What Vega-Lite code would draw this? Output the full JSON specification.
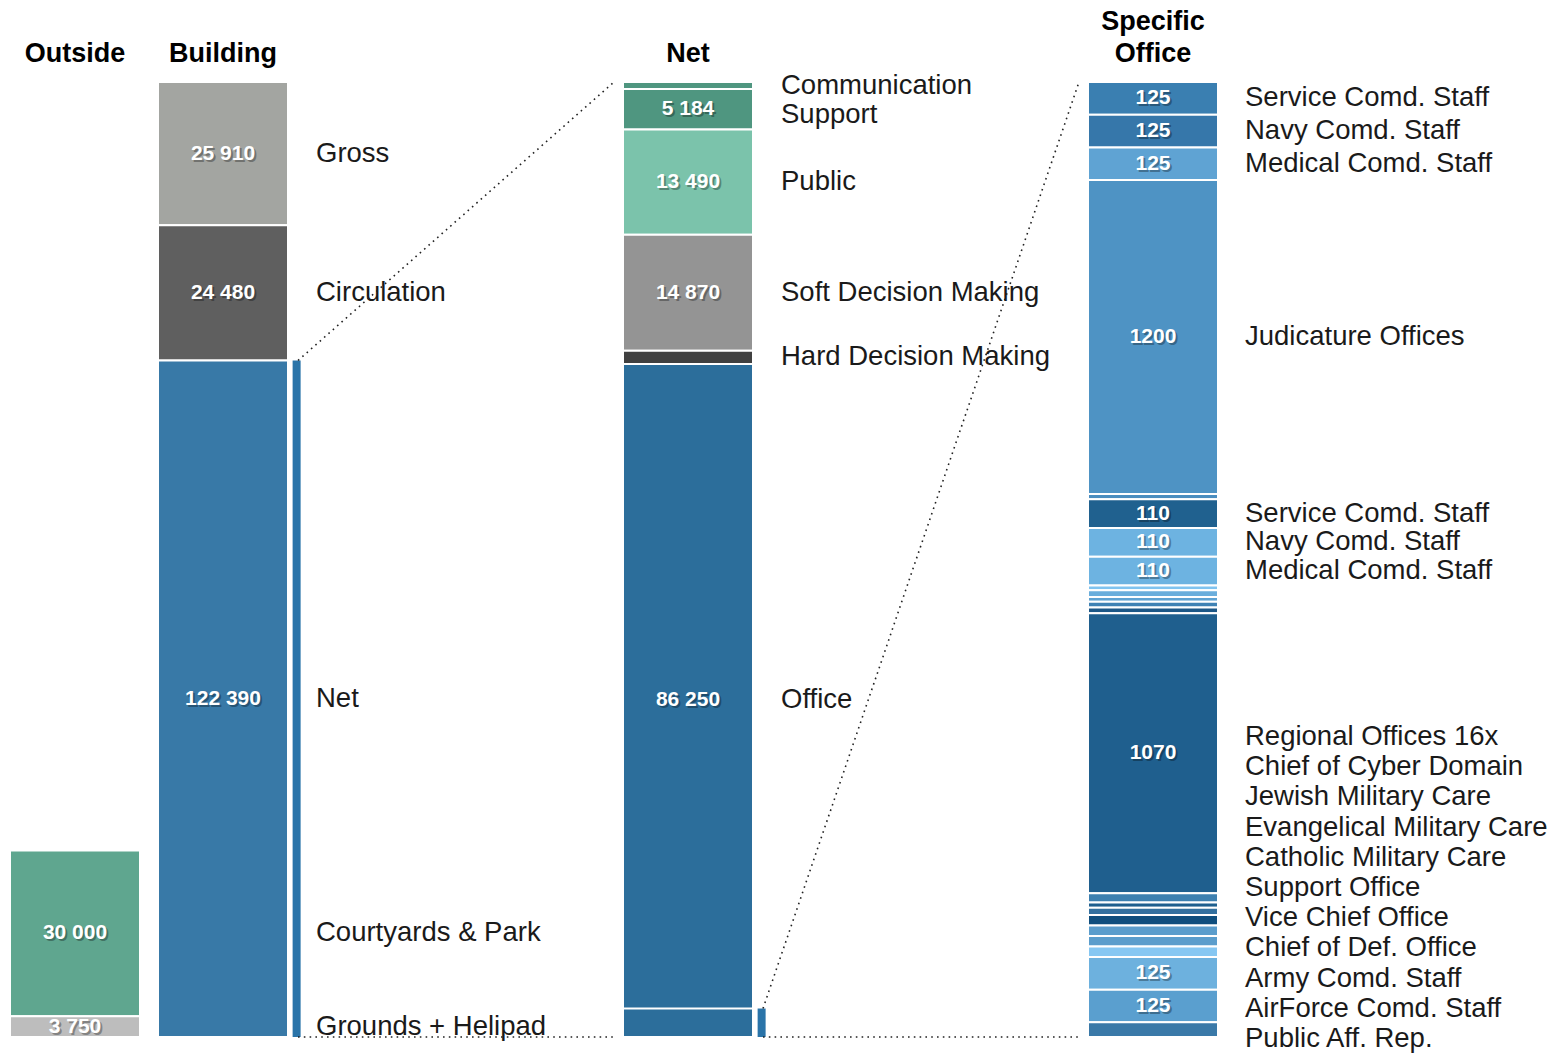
{
  "$schema": "https://vega.github.io/schema/vega-lite/v6.json",
  "width": 1208,
  "height": 955,
  "autosize": {"type": "none"},
  "padding": {"left": 10, "top": 82, "right": 344, "bottom": 16},
  "background": "white",
  "config": {"view": {"stroke": null}},
  "datasets": {
    "building": [
      {"col": "Outside", "group": "Building", "sub": "outside", "id": "o1", "ord": 1, "value": 30000, "tag": "30 000", "name": "Courtyards & Park"},
      {"col": "Outside", "group": "Building", "sub": "outside", "id": "o2", "ord": 2, "value": 3750, "tag": "3 750", "name": "Grounds + Helipad"},
      {"col": "Building", "group": "Building", "sub": "main", "id": "b1", "ord": 1, "value": 25910, "tag": "25 910", "name": "Gross"},
      {"col": "Building", "group": "Building", "sub": "main", "id": "b2", "ord": 2, "value": 24480, "tag": "24 480", "name": "Circulation"},
      {"col": "Building", "group": "Building", "sub": "main", "id": "b3", "ord": 3, "value": 122390, "tag": "122 390", "name": "Net"}
    ],
    "net": [
      {"group": "Net", "sub": "main", "id": "n1", "ord": 1, "value": 900, "tag": "", "name": "Communication"},
      {"group": "Net", "sub": "main", "id": "n2", "ord": 2, "value": 5184, "tag": "5 184", "name": "Support"},
      {"group": "Net", "sub": "main", "id": "n3", "ord": 3, "value": 13490, "tag": "13 490", "name": "Public"},
      {"group": "Net", "sub": "main", "id": "n4", "ord": 4, "value": 14870, "tag": "14 870", "name": "Soft Decision Making"},
      {"group": "Net", "sub": "main", "id": "n5", "ord": 5, "value": 1696, "tag": "", "name": "Hard Decision Making"},
      {"group": "Net", "sub": "main", "id": "n6", "ord": 6, "value": 86250, "tag": "86 250", "name": "Office"}
    ],
    "netShare": [
      {"group": "Net", "sub": "main", "value": 3651}
    ],
    "spec": [
      {"group": "Specific Office", "sub": "main", "id": "sp01", "ord": 1, "value": 125, "tag": "125", "name": "Service Comd. Staff"},
      {"group": "Specific Office", "sub": "main", "id": "sp02", "ord": 2, "value": 125, "tag": "125", "name": "Navy Comd. Staff"},
      {"group": "Specific Office", "sub": "main", "id": "sp03", "ord": 3, "value": 125, "tag": "125", "name": "Medical Comd. Staff"},
      {"group": "Specific Office", "sub": "main", "id": "sp04", "ord": 4, "value": 1200, "tag": "1200", "name": "Judicature Offices"},
      {"group": "Specific Office", "sub": "main", "id": "sp05", "ord": 5, "value": 20, "tag": "", "name": ""},
      {"group": "Specific Office", "sub": "main", "id": "sp06", "ord": 6, "value": 110, "tag": "110", "name": "Service Comd. Staff"},
      {"group": "Specific Office", "sub": "main", "id": "sp07", "ord": 7, "value": 110, "tag": "110", "name": "Navy Comd. Staff"},
      {"group": "Specific Office", "sub": "main", "id": "sp08", "ord": 8, "value": 110, "tag": "110", "name": "Medical Comd. Staff"},
      {"group": "Specific Office", "sub": "main", "id": "sp09", "ord": 9, "value": 18, "tag": "", "name": ""},
      {"group": "Specific Office", "sub": "main", "id": "sp10", "ord": 10, "value": 26, "tag": "", "name": ""},
      {"group": "Specific Office", "sub": "main", "id": "sp11", "ord": 11, "value": 18, "tag": "", "name": ""},
      {"group": "Specific Office", "sub": "main", "id": "sp12", "ord": 12, "value": 22, "tag": "", "name": ""},
      {"group": "Specific Office", "sub": "main", "id": "sp13", "ord": 13, "value": 22, "tag": "", "name": ""},
      {"group": "Specific Office", "sub": "main", "id": "sp14", "ord": 14, "value": 1070, "tag": "1070", "name": "Regional Offices 16x"},
      {"group": "Specific Office", "sub": "main", "id": "sp15", "ord": 15, "value": 36, "tag": "", "name": "Chief of Cyber Domain"},
      {"group": "Specific Office", "sub": "main", "id": "sp16", "ord": 16, "value": 20, "tag": "", "name": "Jewish Military Care"},
      {"group": "Specific Office", "sub": "main", "id": "sp17", "ord": 17, "value": 28, "tag": "", "name": "Evangelical Military Care"},
      {"group": "Specific Office", "sub": "main", "id": "sp18", "ord": 18, "value": 40, "tag": "", "name": "Catholic Military Care"},
      {"group": "Specific Office", "sub": "main", "id": "sp19", "ord": 19, "value": 40, "tag": "", "name": "Support Office"},
      {"group": "Specific Office", "sub": "main", "id": "sp20", "ord": 20, "value": 40, "tag": "", "name": "Vice Chief Office"},
      {"group": "Specific Office", "sub": "main", "id": "sp21", "ord": 21, "value": 40, "tag": "", "name": "Chief of Def. Office"},
      {"group": "Specific Office", "sub": "main", "id": "sp22", "ord": 22, "value": 125, "tag": "125", "name": "Army Comd. Staff"},
      {"group": "Specific Office", "sub": "main", "id": "sp23", "ord": 23, "value": 125, "tag": "125", "name": "AirForce Comd. Staff"},
      {"group": "Specific Office", "sub": "main", "id": "sp24", "ord": 24, "value": 56, "tag": "", "name": "Public Aff. Rep."}
    ],
    "strips": [
      {"group": "Building", "lo": 0, "hi": 122390},
      {"group": "Net", "lo": 0, "hi": 3651}
    ],
    "links": [
      {"from": "Building", "to": "Net", "a": 122390, "b": 172780},
      {"from": "Building", "to": "Net", "a": 0, "b": 0},
      {"from": "Net", "to": "Specific Office", "a": 3651, "b": 122390},
      {"from": "Net", "to": "Specific Office", "a": 0, "b": 0}
    ],
    "headers": [
      {"group": "Building", "sub": "outside", "h": "Outside"},
      {"group": "Building", "sub": "main", "h": "Building"},
      {"group": "Net", "sub": "main", "h": "Net"},
      {"group": "Specific Office", "sub": "main", "h": ["Specific", "Office"]}
    ]
  },
  "resolve": {"scale": {"y": "independent"}},
  "layer": [
    {
      "layer": [
        {
          "data": {"name": "building"},
          "transform": [{"filter": "datum.col === 'Outside'"}],
          "mark": {"type": "bar", "stroke": "white", "strokeWidth": 2},
          "encoding": {
            "x": {"field": "group", "type": "nominal", "scale": {"domain": ["Building", "Net", "Specific Office"], "paddingInner": 0.40215, "paddingOuter": 0}, "axis": null},
            "xOffset": {"field": "sub", "type": "nominal", "scale": {"domain": ["outside", "main"], "paddingInner": 0.12162, "paddingOuter": 0}},
            "y": {"field": "value", "type": "quantitative", "stack": "zero", "scale": {"domain": [0, 172780], "nice": false}, "axis": null},
            "color": {"field": "id", "type": "nominal", "legend": null, "scale": {"domain": ["o1","o2","b1","b2","b3","n1","n2","n3","n4","n5","n6","sp01","sp02","sp03","sp04","sp05","sp06","sp07","sp08","sp09","sp10","sp11","sp12","sp13","sp14","sp15","sp16","sp17","sp18","sp19","sp20","sp21","sp22","sp23","sp24"], "range": ["#5fa68f","#bdbdbd","#a3a5a1","#5f5f5f","#3879a7","#4f9680","#4f9680","#7bc3ab","#949494","#404040","#2c6e9b","#3a7fb1","#3677aa","#5fa3d3","#4e93c4","#4a8dbf","#20618f","#6db3e1","#6db3e1","#80c3ef","#6aaedc","#5ea2d2","#3f82b4","#1c5786","#1f5f8e","#3d80b0","#1f5f8e","#33709f","#0f4e7e","#5b9dcc","#5b9dcc","#86c7f2","#6db1de","#5a9fcf","#3a79a8"]}},
            "order": {"field": "ord", "type": "quantitative", "sort": "descending"}
          }
        },
        {
          "data": {"name": "building"},
          "transform": [{"filter": "datum.col === 'Building'"}],
          "mark": {"type": "bar", "stroke": "white", "strokeWidth": 2},
          "encoding": {
            "x": {"field": "group", "type": "nominal", "axis": null},
            "xOffset": {"field": "sub", "type": "nominal"},
            "y": {"field": "value", "type": "quantitative", "stack": "zero", "scale": {"domain": [0, 172780], "nice": false}, "axis": null},
            "color": {"field": "id", "type": "nominal", "legend": null},
            "order": {"field": "ord", "type": "quantitative", "sort": "descending"}
          }
        },
        {
          "data": {"name": "building"},
          "transform": [{"filter": "datum.col === 'Outside'"}],
          "mark": {"type": "text", "font": "Liberation Sans", "fontWeight": "bold", "fontSize": 21, "color": "#000000", "opacity": 0.3, "dx": 2, "dy": 2, "baseline": "middle"},
          "encoding": {
            "x": {"field": "group", "type": "nominal", "axis": null},
            "xOffset": {"field": "sub", "type": "nominal"},
            "y": {"field": "value", "type": "quantitative", "stack": "zero", "bandPosition": 0.5, "axis": null},
            "order": {"field": "ord", "type": "quantitative", "sort": "descending"},
            "text": {"field": "tag", "type": "nominal"}
          }
        },
        {
          "data": {"name": "building"},
          "transform": [{"filter": "datum.col === 'Outside'"}],
          "mark": {"type": "text", "font": "Liberation Sans", "fontWeight": "bold", "fontSize": 21, "color": "#ffffff", "baseline": "middle"},
          "encoding": {
            "x": {"field": "group", "type": "nominal", "axis": null},
            "xOffset": {"field": "sub", "type": "nominal"},
            "y": {"field": "value", "type": "quantitative", "stack": "zero", "bandPosition": 0.5, "axis": null},
            "order": {"field": "ord", "type": "quantitative", "sort": "descending"},
            "text": {"field": "tag", "type": "nominal"}
          }
        },
        {
          "data": {"name": "building"},
          "transform": [{"filter": "datum.col === 'Building'"}],
          "mark": {"type": "text", "font": "Liberation Sans", "fontWeight": "bold", "fontSize": 21, "color": "#000000", "opacity": 0.3, "dx": 2, "dy": 2, "baseline": "middle"},
          "encoding": {
            "x": {"field": "group", "type": "nominal", "axis": null},
            "xOffset": {"field": "sub", "type": "nominal"},
            "y": {"field": "value", "type": "quantitative", "stack": "zero", "bandPosition": 0.5, "axis": null},
            "order": {"field": "ord", "type": "quantitative", "sort": "descending"},
            "text": {"field": "tag", "type": "nominal"}
          }
        },
        {
          "data": {"name": "building"},
          "transform": [{"filter": "datum.col === 'Building'"}],
          "mark": {"type": "text", "font": "Liberation Sans", "fontWeight": "bold", "fontSize": 21, "color": "#ffffff", "baseline": "middle"},
          "encoding": {
            "x": {"field": "group", "type": "nominal", "axis": null},
            "xOffset": {"field": "sub", "type": "nominal"},
            "y": {"field": "value", "type": "quantitative", "stack": "zero", "bandPosition": 0.5, "axis": null},
            "order": {"field": "ord", "type": "quantitative", "sort": "descending"},
            "text": {"field": "tag", "type": "nominal"}
          }
        },
        {
          "data": {"name": "building"},
          "transform": [{"filter": "datum.col === 'Outside'"}],
          "mark": {"type": "text", "font": "Liberation Sans", "fontSize": 27.5, "color": "#1a1a1a", "align": "left", "baseline": "middle", "dx": 28},
          "encoding": {
            "x": {"field": "group", "type": "nominal", "bandPosition": 1, "axis": null},
            "y": {"field": "value", "type": "quantitative", "stack": "zero", "bandPosition": 0.5, "axis": null},
            "order": {"field": "ord", "type": "quantitative", "sort": "descending"},
            "text": {"field": "name", "type": "nominal"}
          }
        },
        {
          "data": {"name": "building"},
          "transform": [{"filter": "datum.col === 'Building'"}],
          "mark": {"type": "text", "font": "Liberation Sans", "fontSize": 27.5, "color": "#1a1a1a", "align": "left", "baseline": "middle", "dx": 28},
          "encoding": {
            "x": {"field": "group", "type": "nominal", "bandPosition": 1, "axis": null},
            "y": {"field": "value", "type": "quantitative", "stack": "zero", "bandPosition": 0.5, "axis": null},
            "order": {"field": "ord", "type": "quantitative", "sort": "descending"},
            "text": {"field": "name", "type": "nominal"}
          }
        },
        {
          "data": {"name": "strips"},
          "transform": [{"filter": "datum.group === 'Building'"}],
          "mark": {"type": "rule", "strokeWidth": 8, "color": "#2a74a9", "strokeCap": "butt"},
          "encoding": {
            "x": {"field": "group", "type": "nominal", "bandPosition": 1.031, "axis": null},
            "y": {"field": "lo", "type": "quantitative", "axis": null},
            "y2": {"field": "hi"}
          }
        },
        {
          "data": {"name": "links"},
          "transform": [{"filter": "datum.from === 'Building'"}],
          "mark": {"type": "rule", "strokeWidth": 1.6, "color": "#222222", "strokeDash": [1.6, 4.2], "strokeCap": "butt"},
          "encoding": {
            "x": {"field": "from", "type": "nominal", "bandPosition": 1.036, "axis": null},
            "x2": {"field": "to"},
            "y": {"field": "a", "type": "quantitative", "axis": null},
            "y2": {"field": "b"}
          }
        },
        {
          "data": {"name": "headers"},
          "transform": [{"filter": "datum.group !== 'Specific Office'"}],
          "mark": {"type": "text", "font": "Liberation Sans", "fontWeight": "bold", "fontSize": 27, "color": "#000000", "baseline": "bottom", "dy": -14},
          "encoding": {
            "x": {"field": "group", "type": "nominal", "axis": null},
            "xOffset": {"field": "sub", "type": "nominal"},
            "y": {"datum": 172780, "type": "quantitative"},
            "text": {"field": "h"}
          }
        },
        {
          "data": {"name": "headers"},
          "transform": [{"filter": "datum.group === 'Specific Office'"}],
          "mark": {"type": "text", "font": "Liberation Sans", "fontWeight": "bold", "fontSize": 27, "color": "#000000", "baseline": "bottom", "dy": -46, "lineHeight": 32},
          "encoding": {
            "x": {"field": "group", "type": "nominal", "axis": null},
            "xOffset": {"field": "sub", "type": "nominal"},
            "y": {"datum": 172780, "type": "quantitative"},
            "text": {"field": "h"}
          }
        }
      ]
    },
    {
      "layer": [
        {
          "data": {"name": "net"},
          "mark": {"type": "bar", "stroke": "white", "strokeWidth": 2},
          "encoding": {
            "x": {"field": "group", "type": "nominal", "axis": null},
            "xOffset": {"field": "sub", "type": "nominal"},
            "y": {"field": "value", "type": "quantitative", "stack": "zero", "scale": {"domain": [0, 122390], "nice": false}, "axis": null},
            "color": {"field": "id", "type": "nominal", "legend": null},
            "order": {"field": "ord", "type": "quantitative", "sort": "descending"}
          }
        },
        {
          "data": {"name": "netShare"},
          "mark": {"type": "bar", "stroke": "white", "strokeWidth": 2, "color": "#2c6e9b"},
          "encoding": {
            "x": {"field": "group", "type": "nominal", "axis": null},
            "xOffset": {"field": "sub", "type": "nominal"},
            "y": {"field": "value", "type": "quantitative", "stack": null, "axis": null}
          }
        },
        {
          "data": {"name": "net"},
          "mark": {"type": "text", "font": "Liberation Sans", "fontWeight": "bold", "fontSize": 21, "color": "#000000", "opacity": 0.3, "dx": 2, "dy": 2, "baseline": "middle"},
          "encoding": {
            "x": {"field": "group", "type": "nominal", "axis": null},
            "xOffset": {"field": "sub", "type": "nominal"},
            "y": {"field": "value", "type": "quantitative", "stack": "zero", "bandPosition": 0.5, "axis": null},
            "order": {"field": "ord", "type": "quantitative", "sort": "descending"},
            "text": {"field": "tag", "type": "nominal"}
          }
        },
        {
          "data": {"name": "net"},
          "mark": {"type": "text", "font": "Liberation Sans", "fontWeight": "bold", "fontSize": 21, "color": "#ffffff", "baseline": "middle"},
          "encoding": {
            "x": {"field": "group", "type": "nominal", "axis": null},
            "xOffset": {"field": "sub", "type": "nominal"},
            "y": {"field": "value", "type": "quantitative", "stack": "zero", "bandPosition": 0.5, "axis": null},
            "order": {"field": "ord", "type": "quantitative", "sort": "descending"},
            "text": {"field": "tag", "type": "nominal"}
          }
        },
        {
          "data": {"name": "net"},
          "mark": {"type": "text", "font": "Liberation Sans", "fontSize": 27.5, "color": "#1a1a1a", "align": "left", "baseline": "middle", "dx": 28},
          "encoding": {
            "x": {"field": "group", "type": "nominal", "bandPosition": 1, "axis": null},
            "y": {"field": "value", "type": "quantitative", "stack": "zero", "bandPosition": 0.5, "axis": null},
            "order": {"field": "ord", "type": "quantitative", "sort": "descending"},
            "text": {"condition": {"test": "datum.ord === 2", "value": ""}, "field": "name", "type": "nominal"}
          }
        },
        {
          "data": {"name": "net"},
          "mark": {"type": "text", "font": "Liberation Sans", "fontSize": 27.5, "color": "#1a1a1a", "align": "left", "baseline": "middle", "dx": 28, "dy": 6},
          "encoding": {
            "x": {"field": "group", "type": "nominal", "bandPosition": 1, "axis": null},
            "y": {"field": "value", "type": "quantitative", "stack": "zero", "bandPosition": 0.5, "axis": null},
            "order": {"field": "ord", "type": "quantitative", "sort": "descending"},
            "text": {"condition": {"test": "datum.ord !== 2", "value": ""}, "field": "name", "type": "nominal"}
          }
        },
        {
          "data": {"name": "strips"},
          "transform": [{"filter": "datum.group === 'Net'"}],
          "mark": {"type": "rule", "strokeWidth": 8, "color": "#2a74a9", "strokeCap": "butt"},
          "encoding": {
            "x": {"field": "group", "type": "nominal", "bandPosition": 1.031, "axis": null},
            "y": {"field": "lo", "type": "quantitative", "axis": null},
            "y2": {"field": "hi"}
          }
        },
        {
          "data": {"name": "links"},
          "transform": [{"filter": "datum.from === 'Net'"}],
          "mark": {"type": "rule", "strokeWidth": 1.6, "color": "#222222", "strokeDash": [1.6, 4.2], "strokeCap": "butt"},
          "encoding": {
            "x": {"field": "from", "type": "nominal", "bandPosition": 1.036, "axis": null},
            "x2": {"field": "to"},
            "y": {"field": "a", "type": "quantitative", "axis": null},
            "y2": {"field": "b"}
          }
        }
      ]
    },
    {
      "layer": [
        {
          "data": {"name": "spec"},
          "mark": {"type": "bar", "stroke": "white", "strokeWidth": 2},
          "encoding": {
            "x": {"field": "group", "type": "nominal", "axis": null},
            "xOffset": {"field": "sub", "type": "nominal"},
            "y": {"field": "value", "type": "quantitative", "stack": "zero", "scale": {"domain": [0, 3651], "nice": false}, "axis": null},
            "color": {"field": "id", "type": "nominal", "legend": null},
            "order": {"field": "ord", "type": "quantitative", "sort": "descending"}
          }
        },
        {
          "data": {"name": "spec"},
          "mark": {"type": "text", "font": "Liberation Sans", "fontWeight": "bold", "fontSize": 21, "color": "#000000", "opacity": 0.3, "dx": 2, "dy": 2, "baseline": "middle"},
          "encoding": {
            "x": {"field": "group", "type": "nominal", "axis": null},
            "xOffset": {"field": "sub", "type": "nominal"},
            "y": {"field": "value", "type": "quantitative", "stack": "zero", "bandPosition": 0.5, "axis": null},
            "order": {"field": "ord", "type": "quantitative", "sort": "descending"},
            "text": {"field": "tag", "type": "nominal"}
          }
        },
        {
          "data": {"name": "spec"},
          "mark": {"type": "text", "font": "Liberation Sans", "fontWeight": "bold", "fontSize": 21, "color": "#ffffff", "baseline": "middle"},
          "encoding": {
            "x": {"field": "group", "type": "nominal", "axis": null},
            "xOffset": {"field": "sub", "type": "nominal"},
            "y": {"field": "value", "type": "quantitative", "stack": "zero", "bandPosition": 0.5, "axis": null},
            "order": {"field": "ord", "type": "quantitative", "sort": "descending"},
            "text": {"field": "tag", "type": "nominal"}
          }
        },
        {
          "data": {"name": "spec"},
          "mark": {"type": "text", "font": "Liberation Sans", "fontSize": 27.5, "color": "#1a1a1a", "align": "left", "baseline": "middle", "dx": 27},
          "encoding": {
            "x": {"field": "group", "type": "nominal", "bandPosition": 1, "axis": null},
            "y": {"field": "value", "type": "quantitative", "stack": "zero", "bandPosition": 0.5, "axis": null},
            "order": {"field": "ord", "type": "quantitative", "sort": "descending"},
            "text": {"condition": {"test": "datum.ord > 13", "value": ""}, "field": "name", "type": "nominal"}
          }
        }
      ]
    },
    {
      "data": {"name": "spec"},
      "transform": [{"filter": "datum.ord >= 14"}],
      "mark": {"type": "text", "font": "Liberation Sans", "fontSize": 27.5, "color": "#1a1a1a", "align": "left", "baseline": "middle", "dx": 27},
      "encoding": {
        "x": {"field": "group", "type": "nominal", "bandPosition": 1, "axis": null},
        "y": {"field": "name", "type": "nominal", "axis": null, "scale": {"type": "point", "domain": ["Regional Offices 16x", "Chief of Cyber Domain", "Jewish Military Care", "Evangelical Military Care", "Catholic Military Care", "Support Office", "Vice Chief Office", "Chief of Def. Office", "Army Comd. Staff", "AirForce Comd. Staff", "Public Aff. Rep."], "padding": 0, "range": [655, 957]}},
        "text": {"field": "name", "type": "nominal"}
      }
    }
  ]
}
